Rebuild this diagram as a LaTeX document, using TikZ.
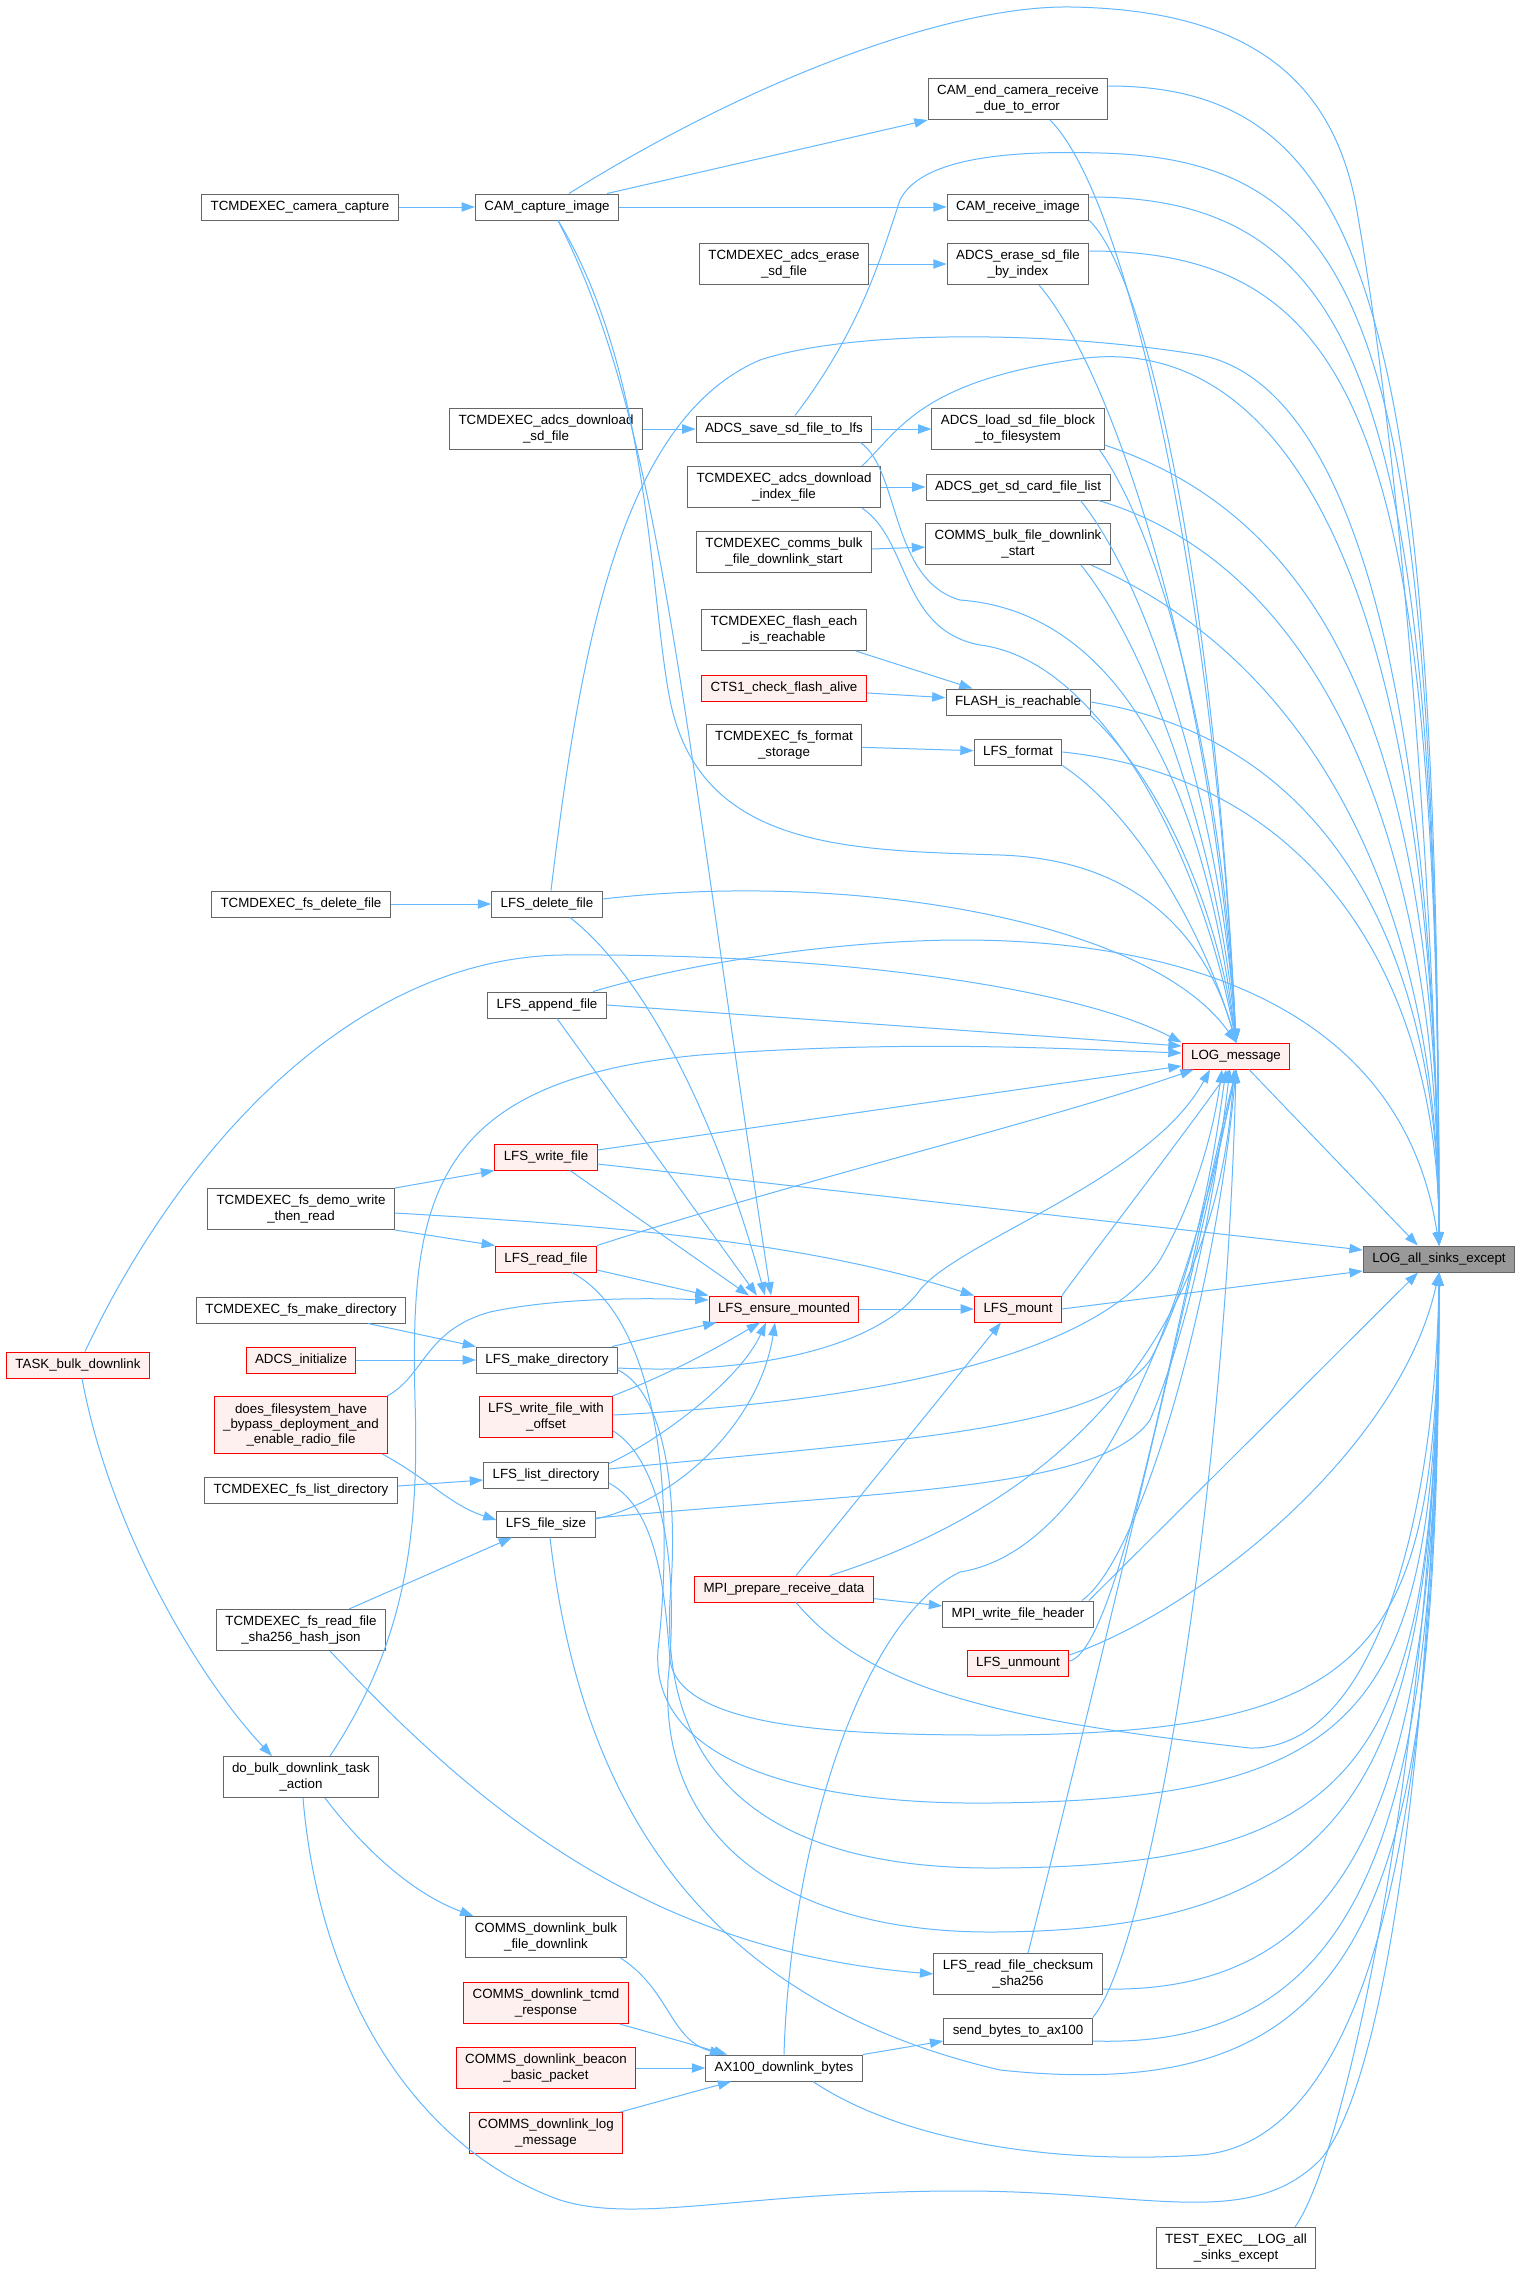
\documentclass[tikz,border=0pt]{standalone}
\usepackage{fontspec}
\setmainfont{Liberation Sans}
\usetikzlibrary{arrows.meta,calc}
\definecolor{edgeblue}{HTML}{63B8FF}
\definecolor{boxgray}{HTML}{666666}
\definecolor{redfill}{HTML}{FFF0F0}
\definecolor{curgray}{HTML}{999999}
\begin{document}
\begin{tikzpicture}[x=0.75pt,y=-0.75pt,
  fn/.style={draw=boxgray,fill=white,line width=0.75pt,inner xsep=6.75pt,inner ysep=0pt,
    minimum height=19.5pt,align=center,font=\fontsize{10}{11.5}\selectfont},
  fnred/.style={fn,draw=red,fill=redfill},
  fncur/.style={fn,fill=curgray},
  dbl/.style={minimum height=30.75pt},
  tpl/.style={minimum height=42.75pt},
  call/.style={draw=edgeblue,line width=0.75pt,-{Triangle[length=10pt,width=7pt]}}]
\useasboundingbox (0,0) rectangle (1521,2274);
\fill[white] (0,0) rectangle (1521,2274);

\node[fncur] (lase) at (1439,1259) {LOG\_all\_sinks\_except};
\node[fnred] (logmsg) at (1236,1056) {LOG\_message};
\node[fn,dbl] (testexec) at (1236,2248) {TEST\_EXEC\_\_LOG\_all\\\_sinks\_except};

\node[fn,dbl] (camend) at (1018,99) {CAM\_end\_camera\_receive\\\_due\_to\_error};
\node[fn] (camrecv) at (1018,207) {CAM\_receive\_image};
\node[fn,dbl] (adcserase) at (1018,264) {ADCS\_erase\_sd\_file\\\_by\_index};
\node[fn,dbl] (adcsload) at (1018,429) {ADCS\_load\_sd\_file\_block\\\_to\_filesystem};
\node[fn] (adcsget) at (1018,487) {ADCS\_get\_sd\_card\_file\_list};
\node[fn,dbl] (commsbulk) at (1018,544) {COMMS\_bulk\_file\_downlink\\\_start};
\node[fn] (flashreach) at (1018,702) {FLASH\_is\_reachable};
\node[fn] (lfsformat) at (1018,752) {LFS\_format};
\node[fnred] (lfsmount) at (1018,1309) {LFS\_mount};
\node[fn] (mpiwrite) at (1018,1614) {MPI\_write\_file\_header};
\node[fnred] (lfsunmount) at (1018,1663) {LFS\_unmount};
\node[fn,dbl] (lfschecksum) at (1018,1974) {LFS\_read\_file\_checksum\\\_sha256};
\node[fn] (sendbytes) at (1018,2031) {send\_bytes\_to\_ax100};

\node[fn,dbl] (tcadcserase) at (784,264) {TCMDEXEC\_adcs\_erase\\\_sd\_file};
\node[fn] (adcssave) at (784,429) {ADCS\_save\_sd\_file\_to\_lfs};
\node[fn,dbl] (tcadcsindex) at (784,487) {TCMDEXEC\_adcs\_download\\\_index\_file};
\node[fn,dbl] (tccommsbulk) at (784,552) {TCMDEXEC\_comms\_bulk\\\_file\_downlink\_start};
\node[fn,dbl] (tcflash) at (784,630) {TCMDEXEC\_flash\_each\\\_is\_reachable};
\node[fnred] (cts1) at (784,688) {CTS1\_check\_flash\_alive};
\node[fn,dbl] (tcformat) at (784,745) {TCMDEXEC\_fs\_format\\\_storage};
\node[fnred] (ensure) at (784,1309) {LFS\_ensure\_mounted};
\node[fnred] (mpiprep) at (784,1589) {MPI\_prepare\_receive\_data};
\node[fn] (ax100) at (784,2068) {AX100\_downlink\_bytes};

\node[fn] (capimg) at (547,207) {CAM\_capture\_image};
\node[fn,dbl] (tcadcsdl) at (546,429) {TCMDEXEC\_adcs\_download\\\_sd\_file};
\node[fn] (lfsdelete) at (547,904) {LFS\_delete\_file};
\node[fn] (lfsappend) at (547,1005) {LFS\_append\_file};
\node[fnred] (lfswrite) at (546,1157) {LFS\_write\_file};
\node[fnred] (lfsread) at (546,1259) {LFS\_read\_file};
\node[fn] (lfsmkdir) at (547,1360) {LFS\_make\_directory};
\node[fnred,dbl] (lfswoff) at (546,1417) {LFS\_write\_file\_with\\\_offset};
\node[fn] (lfslist) at (546,1475) {LFS\_list\_directory};
\node[fn] (lfssize) at (546,1524) {LFS\_file\_size};
\node[fn,dbl] (commsdlbulk) at (546,1937) {COMMS\_downlink\_bulk\\\_file\_downlink};
\node[fnred,dbl] (commstcmd) at (546,2003) {COMMS\_downlink\_tcmd\\\_response};
\node[fnred,dbl] (commsbeacon) at (546,2068) {COMMS\_downlink\_beacon\\\_basic\_packet};
\node[fnred,dbl] (commslog) at (546,2133) {COMMS\_downlink\_log\\\_message};

\node[fn] (tccamera) at (300,207) {TCMDEXEC\_camera\_capture};
\node[fn] (tcdelete) at (301,904) {TCMDEXEC\_fs\_delete\_file};
\node[fn,dbl] (tcdemo) at (301,1209) {TCMDEXEC\_fs\_demo\_write\\\_then\_read};
\node[fn] (tcmkdir) at (301,1310) {TCMDEXEC\_fs\_make\_directory};
\node[fnred] (adcsinit) at (301,1360) {ADCS\_initialize};
\node[fnred,tpl] (doesfs) at (301,1425) {does\_filesystem\_have\\\_bypass\_deployment\_and\\\_enable\_radio\_file};
\node[fn] (tclist) at (301,1490) {TCMDEXEC\_fs\_list\_directory};
\node[fn,dbl] (tcsha) at (301,1630) {TCMDEXEC\_fs\_read\_file\\\_sha256\_hash\_json};
\node[fn,dbl] (dobulk) at (301,1777) {do\_bulk\_downlink\_task\\\_action};
\node[fnred] (taskbulk) at (78,1365) {TASK\_bulk\_downlink};

% top rows
\draw[call] (tccamera) -- (capimg);
\draw[call] ($(capimg.north east)+(-12,0)$) -- (camend.south west);
\draw[call] (capimg) -- (camrecv);
\draw[call] ($(capimg.north)+(22,0)$) .. controls (750,80) and (950,5) .. (1071,7) .. controls (1250,10) and (1330,80) .. (1355,200) .. controls (1400,450) and (1436,900) .. (lase.north);
\draw[call] ($(capimg.south)+(11,0)$) .. controls (650,370) and (650,600) .. (670,700) .. controls (700,850) and (850,850) .. (1000,855) .. controls (1150,860) and (1210,950) .. (logmsg.north);
\draw[call] ($(capimg.south)+(11,0)$) .. controls (660,420) and (680,700) .. ($(ensure.north)+(-13,0)$);
\draw[call] ($(camend.east)+(0,-13)$) .. controls (1373,86) and (1439,318) .. (lase.north);
\draw[call] ($(camend.south)+(32,0)$) .. controls (1130,200) and (1215,600) .. (logmsg.north);
\draw[call] ($(camrecv.east)+(0,-10)$) .. controls (1369,197) and (1439,407) .. (lase.north);
\draw[call] (camrecv.south east) .. controls (1150,280) and (1215,600) .. (logmsg.north);
\draw[call] (tcadcserase) -- (adcserase);
\draw[call] ($(adcserase.east)+(0,-13)$) .. controls (1369,251) and (1439,450) .. (lase.north);
\draw[call] ($(adcserase.south)+(21,0)$) .. controls (1120,380) and (1215,700) .. (logmsg.north);
\draw[call] (tcadcsdl) -- (adcssave);
\draw[call] (adcssave) -- (adcsload);
\draw[call] ($(adcssave.north)+(11,0)$) .. controls (860,330) and (880,260) .. (900,200) .. controls (920,160) and (1000,150) .. (1100,153) .. controls (1380,160) and (1436,350) .. (lase.north);
\draw[call] ($(adcssave.south east)+(-12,0)$) .. controls (900,470) and (890,580) .. (960,600) .. controls (1100,610) and (1200,750) .. (logmsg.north);
\draw[call] ($(adcsload.east)+(0,16)$) .. controls (1330,520) and (1439,750) .. (lase.north);
\draw[call] ($(adcsload.south east)+(-5,0)$) .. controls (1170,550) and (1225,800) .. (logmsg.north);
\draw[call] (tcadcsindex) -- (adcsget);
\draw[call] ($(tcadcsindex.north east)+(-19,0)$) .. controls (900,430) and (920,380) .. (1086,358) .. controls (1250,340) and (1436,500) .. (lase.north);
\draw[call] ($(tcadcsindex.south east)+(-19,0)$) .. controls (910,540) and (900,630) .. (980,645) .. controls (1100,660) and (1200,850) .. (logmsg.north);
\draw[call] ($(adcsget.south east)+(-12,0)$) .. controls (1300,560) and (1439,800) .. (lase.north);
\draw[call] ($(adcsget.south east)+(-30,0)$) .. controls (1160,600) and (1225,850) .. (logmsg.north);
\draw[call] (tccommsbulk) -- (commsbulk);
\draw[call] ($(commsbulk.south east)+(-20,0)$) .. controls (1310,660) and (1439,900) .. (lase.north);
\draw[call] ($(commsbulk.south east)+(-30,0)$) .. controls (1150,650) and (1220,850) .. (logmsg.north);
\draw[call] ($(tcflash.south east)+(-11,0)$) -- ($(flashreach.north west)+(27,0)$);
\draw[call] (cts1) -- (flashreach);
\draw[call] (flashreach.east) .. controls (1330,740) and (1439,950) .. (lase.north);
\draw[call] (flashreach.south east) .. controls (1160,780) and (1215,900) .. (logmsg.north);
\draw[call] (tcformat) -- (lfsformat);
\draw[call] (lfsformat.east) .. controls (1330,780) and (1439,1000) .. (lase.north);
\draw[call] (lfsformat.south east) .. controls (1130,810) and (1200,920) .. (logmsg.north);

% middle rows
\draw[call] (tcdelete) -- (lfsdelete);
\draw[call] ($(lfsdelete.north)+(4,0)$) .. controls (580,650) and (620,420) .. (760,360) .. controls (850,330) and (1050,330) .. (1200,355) .. controls (1380,390) and (1436,800) .. (lase.north);
\draw[call] ($(lfsdelete.east)+(0,-5)$) .. controls (850,870) and (1150,920) .. (logmsg.north);
\draw[call] ($(lfsdelete.south)+(23,0)$) .. controls (650,980) and (720,1130) .. ($(ensure.north)+(-19,0)$);
\draw[call] ($(lfsappend.north)+(46,0)$) .. controls (700,960) and (850,940) .. (962,940) .. controls (1150,940) and (1400,990) .. (lase.north);
\draw[call] (lfsappend.east) -- ($(logmsg.west)+(0,-10)$);
\draw[call] ($(lfsappend.south)+(10,0)$) -- ($(ensure.north)+(-27,0)$);
\draw[call] ($(taskbulk.north)+(7,0)$) .. controls (180,1150) and (350,960) .. (560,955) .. controls (850,953) and (1080,990) .. (logmsg.north west);
\draw[call] ($(dobulk.north)+(29,0)$) .. controls (400,1650) and (420,1550) .. (415,1400) .. controls (410,1200) and (430,1080) .. (700,1055) .. controls (900,1040) and (1050,1048) .. ($(logmsg.west)+(0,-3)$);
\draw[call] ($(lfswrite.east)+(0,-7)$) -- ($(logmsg.west)+(0,10)$);
\draw[call] ($(lfswrite.east)+(0,7)$) -- ($(lase.west)+(0,-9)$);
\draw[call] ($(lfswrite.south)+(24,0)$) -- ($(ensure.north)+(-35,0)$);
\draw[call] (tcdemo.north east) -- (lfswrite.south west);
\draw[call] (tcdemo.south east) -- (lfsread.north west);
\draw[call] ($(tcdemo.east)+(0,4)$) .. controls (600,1225) and (800,1240) .. (lfsmount.north west);
\draw[call] (lfsread.north east) .. controls (800,1180) and (1050,1120) .. ($(logmsg.south west)+(12,0)$);
\draw[call] ($(lfsread.east)+(0,11)$) -- (ensure.north west);
\draw[call] ($(lfsread.south)+(26,0)$) .. controls (660,1320) and (675,1500) .. (658,1650) .. controls (650,1760) and (800,1805) .. (990,1803) .. controls (1380,1800) and (1436,1700) .. (lase.south);
\draw[call] (ensure) -- (lfsmount);
\draw[call] (lfsmount.north east) .. controls (1080,1270) and (1180,1140) .. ($(logmsg.south)+(-6,0)$);
\draw[call] (lfsmount.east) -- ($(lase.west)+(0,12)$);
\draw[call] ($(logmsg.south)+(13,0)$) -- ($(lase.north west)+(55,0)$);
\draw[call] ($(tcmkdir.south)+(67,0)$) -- (lfsmkdir.north west);
\draw[call] (adcsinit) -- (lfsmkdir);
\draw[call] ($(lfsmkdir.north east)+(-6,0)$) -- ($(ensure.south west)+(8,0)$);
\draw[call] ($(lfsmkdir.east)+(0,8)$) .. controls (760,1375) and (880,1345) .. (920,1290) .. controls (960,1240) and (1150,1180) .. ($(logmsg.south)+(-26,0)$);
\draw[call] ($(lfsmkdir.east)+(0,10)$) .. controls (660,1390) and (680,1480) .. (670,1600) .. controls (660,1800) and (800,1868) .. (990,1868) .. controls (1380,1868) and (1436,1750) .. (lase.south);
\draw[call] ($(doesfs.north east)+(-1,0)$) .. controls (425,1375) and (425,1330) .. (490,1312) .. controls (560,1297) and (650,1298) .. ($(ensure.west)+(0,-9)$);
\draw[call] ($(doesfs.south east)+(-6,0)$) .. controls (430,1480) and (450,1505) .. ($(lfssize.west)+(0,-4)$);
\draw[call] ($(lfswoff.north east)+(-1,0)$) .. controls (680,1370) and (730,1340) .. ($(ensure.south)+(-24,0)$);
\draw[call] ($(lfswoff.east)+(0,-2)$) .. controls (900,1400) and (1100,1350) .. (1160,1260) .. controls (1200,1190) and (1215,1120) .. ($(logmsg.south)+(-14,0)$);
\draw[call] ($(lfswoff.east)+(0,14)$) .. controls (660,1460) and (680,1560) .. (668,1680) .. controls (660,1850) and (800,1932) .. (990,1932) .. controls (1380,1932) and (1436,1750) .. (lase.south);
\draw[call] ($(tclist.east)+(0,-4)$) -- ($(lfslist.west)+(0,5)$);
\draw[call] ($(lfslist.north east)+(0,2)$) .. controls (660,1440) and (740,1380) .. ($(ensure.south)+(-18,0)$);
\draw[call] ($(lfslist.east)+(0,-6)$) .. controls (900,1440) and (1100,1430) .. (1150,1360) .. controls (1195,1280) and (1215,1150) .. ($(logmsg.south)+(-10,0)$);
\draw[call] ($(lfslist.east)+(0,8)$) .. controls (660,1510) and (665,1600) .. (670,1660) .. controls (680,1730) and (850,1735) .. (990,1735) .. controls (1380,1735) and (1436,1650) .. (lase.south);
\draw[call] ($(tcsha.north)+(48,0)$) -- ($(lfssize.south)+(-34,0)$);
\draw[call] ($(lfssize.east)+(0,-5)$) .. controls (680,1500) and (760,1420) .. ($(ensure.south)+(-9,0)$);
\draw[call] ($(lfssize.east)+(0,-6)$) .. controls (900,1490) and (1100,1490) .. (1150,1420) .. controls (1200,1300) and (1220,1150) .. ($(logmsg.south)+(-6,0)$);
\draw[call] ($(lfssize.south)+(4,0)$) .. controls (580,1800) and (700,2000) .. (1000,2070) .. controls (1380,2110) and (1439,1900) .. (lase.south);

% lower rows
\draw[call] ($(mpiprep.north)+(12,0)$) -- ($(lfsmount.south)+(-17,0)$);
\draw[call] ($(mpiprep.north)+(46,0)$) .. controls (1100,1490) and (1220,1300) .. ($(logmsg.south)+(-2,0)$);
\draw[call] (mpiprep) -- (mpiwrite);
\draw[call] ($(mpiprep.south)+(12,0)$) .. controls (870,1690) and (1000,1720) .. (1250,1748) .. controls (1380,1750) and (1436,1500) .. (lase.south);
\draw[call] ($(mpiwrite.north east)+(-12,0)$) .. controls (1140,1560) and (1215,1300) .. (logmsg.south);
\draw[call] ($(mpiwrite.north east)+(-5,0)$) .. controls (1150,1540) and (1300,1390) .. ($(lase.south)+(-21,0)$);
\draw[call] ($(lfsunmount.east)+(0,-8)$) .. controls (1200,1610) and (1400,1450) .. (lase.south);
\draw[call] ($(lfsunmount.east)+(0,-2)$) .. controls (1120,1650) and (1180,1300) .. (logmsg.south);
\draw[call] ($(taskbulk.south)+(4,0)$) .. controls (110,1530) and (200,1680) .. ($(dobulk.north)+(-29,0)$);
\draw[call] ($(dobulk.south)+(24,0)$) .. controls (380,1870) and (430,1900) .. ($(commsdlbulk.north west)+(8,0)$);
\draw[call] ($(dobulk.south)+(2,0)$) .. controls (320,2000) and (420,2150) .. (560,2200) .. controls (640,2225) and (750,2190) .. (970,2191) .. controls (1150,2192) and (1250,2230) .. (1320,2160) .. controls (1390,2080) and (1436,1700) .. (lase.south);
\draw[call] ($(tcsha.south)+(29,0)$) .. controls (470,1800) and (640,1950) .. (lfschecksum.west);
\draw[call] ($(lfschecksum.north)+(10,0)$) .. controls (1080,1750) and (1200,1250) .. (logmsg.south);
\draw[call] ($(lfschecksum.east)+(0,15)$) .. controls (1380,1995) and (1439,1750) .. (lase.south);
\draw[call] (sendbytes.north east) .. controls (1150,1950) and (1225,1500) .. (logmsg.south);
\draw[call] ($(sendbytes.east)+(0,10)$) .. controls (1380,2050) and (1439,1800) .. (lase.south);
\draw[call] (ax100.north east) -- ($(sendbytes.west)+(0,10)$);
\draw[call] (ax100.north) .. controls (790,1850) and (860,1620) .. (960,1572) .. controls (1100,1550) and (1190,1300) .. (logmsg.south);
\draw[call] ($(ax100.south)+(29,0)$) .. controls (900,2140) and (1050,2165) .. (1200,2155) .. controls (1400,2140) and (1439,1700) .. (lase.south);
\draw[call] ($(commsdlbulk.south east)+(-6,0)$) .. controls (670,1990) and (670,2040) .. ($(ax100.north west)+(18,0)$);
\draw[call] ($(commstcmd.south east)+(-9,0)$) -- ($(ax100.north west)+(22,0)$);
\draw[call] (commsbeacon) -- (ax100);
\draw[call] ($(commslog.north east)+(-3,0)$) -- ($(ax100.south west)+(26,0)$);
\draw[call] ($(testexec.north)+(59,0)$) .. controls (1350,2150) and (1439,1700) .. (lase.south);
\end{tikzpicture}
\end{document}
